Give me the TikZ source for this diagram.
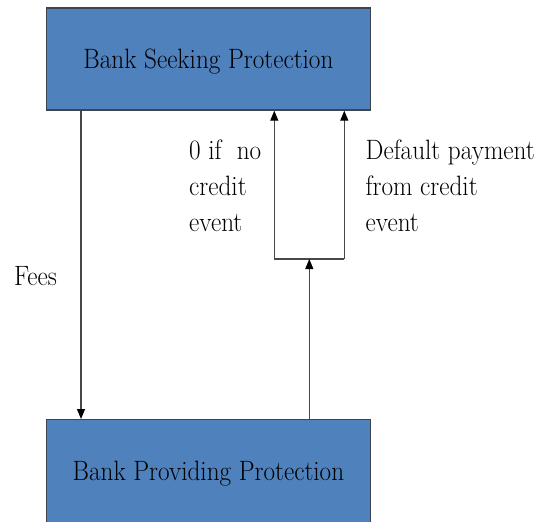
\documentclass[tikz,border=0pt]{standalone}
\usepackage{fontspec}
\usetikzlibrary{arrows.meta}
\definecolor{boxfill}{HTML}{4F81BD}
\definecolor{boxline}{HTML}{3C4450}
\definecolor{conn}{HTML}{484848}
\newcommand{\cond}[1]{\scalebox{0.9}[1]{#1}}
\begin{document}
\begin{tikzpicture}[x=1pt,y=1pt,
  bankbox/.style={rectangle, draw=boxline, line width=1.4pt, fill=boxfill,
    minimum width=324pt, minimum height=102pt, inner sep=0pt,
    text height=20pt, text depth=0pt, font=\rmfamily\fontsize{28}{36}\selectfont},
  lbl/.style={inner sep=0pt, anchor=base west, font=\rmfamily\fontsize{28}{36}\selectfont},
  arr/.style={draw=conn, line width=1.1pt, -{Triangle[length=10pt,width=8pt,color=black]}},
  plain/.style={draw=conn, line width=1.1pt}]
\useasboundingbox (0,0) rectangle (537,-521);
\clip (0,0) rectangle (537,-521);
\node[bankbox] (top) at (208.4,-59) {\cond{Bank Seeking Protection}};
\node[bankbox, minimum height=110pt] (bot) at (208.4,-474.7) {\raisebox{4pt}{\cond{Bank Providing Protection}}};
\node[lbl] (fees) at (14,-285) {\cond{Fees}};
\node[lbl] (noev) at (189,-159.5) {\cond{\begin{tabular}[t]{@{}l@{}}0 if~~no\\credit\\event\end{tabular}}};
\node[lbl] (defp) at (365.5,-159.5) {\cond{\begin{tabular}[t]{@{}l@{}}Default payment\\from credit\\event\end{tabular}}};
\coordinate (jl) at (274.3,-259);
\coordinate (jr) at (344.3,-259);
\coordinate (jc) at (309.3,-259);
\draw[arr] ([xshift=35.3pt]top.south west) -- ([xshift=35.3pt]bot.north west);
\draw[plain] (jl) -- (jr);
\draw[arr] (jl) -- (jl |- top.south);
\draw[arr] (jr) -- (jr |- top.south);
\draw[arr] (bot.north -| jc) -- (jc);
\end{tikzpicture}
\end{document}
